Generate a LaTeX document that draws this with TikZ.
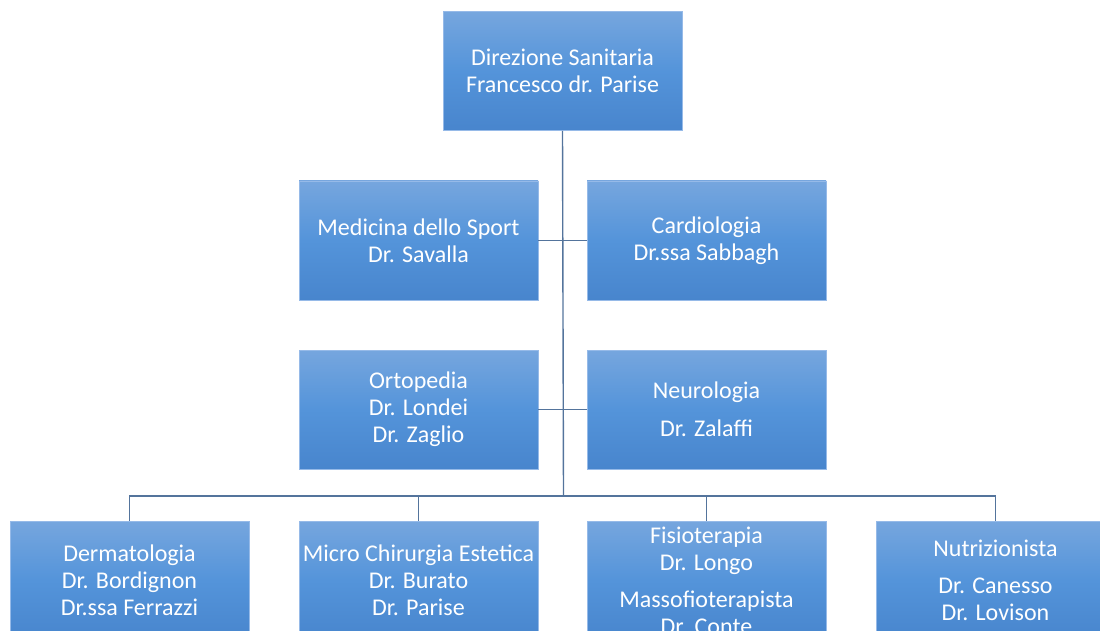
\documentclass[tikz,border=0pt]{standalone}
\usepackage{fontspec}
\setmainfont{Carlito}
\definecolor{boxtop}{RGB}{118,166,222}
\definecolor{boxmid}{RGB}{84,148,218}
\definecolor{boxbot}{RGB}{72,133,205}
\definecolor{boxline}{RGB}{150,186,232}
\definecolor{conn}{RGB}{84,116,156}
\tikzset{
  orgbox/.style={rectangle, minimum width=239pt, minimum height=119pt, inner sep=0pt,
    top color=boxtop, bottom color=boxbot, middle color=boxmid,
    draw=boxline, line width=0.8pt, text=white, align=center,
    font=\fontsize{24}{27}\selectfont},
  link/.style={draw=conn, line width=1.4pt}
}
\begin{document}
\begin{tikzpicture}[x=1pt,y=-1pt]
\useasboundingbox (0,0) rectangle (1100,631);
\clip (0,0) rectangle (1100,631);
\node[orgbox] (top) at (562.5,71) {Direzione Sanitaria\\Francesco dr. Parise};
\node[orgbox] (med) at (418.5,240.5) {Medicina dello Sport\\Dr. Savalla};
\node[orgbox] (card) at (706.5,240.5) {Cardiologia\\Dr.ssa Sabbagh};
\node[orgbox] (orto) at (418.5,409.5) {Ortopedia\\Dr. Londei\\Dr. Zaglio};
\node[orgbox] (neuro) at (706.5,409.5) {Neurologia\\[11pt]Dr. Zalaffi};
\node[orgbox] (derm) at (129.5,580.5) {Dermatologia\\Dr. Bordignon\\Dr.ssa Ferrazzi};
\node[orgbox] (micro) at (418.5,580.5) {Micro Chirurgia Estetica\\Dr. Burato\\Dr. Parise};
\node[orgbox] (fisio) at (706.5,580.5) {Fisioterapia\\Dr. Longo\\[10pt]Massofioterapista\\Dr. Conte};
\node[orgbox] (nutri) at (995.5,580.5) {Nutrizionista\\[10pt]Dr. Canesso\\Dr. Lovison};
\coordinate (bus) at (563.5,496);
\draw[link] (top.south) -- (bus);
\draw[link] (med.east) -- (card.west);
\draw[link] (orto.east) -- (neuro.west);
\draw[link] (derm.north) |- (bus);
\draw[link] (micro.north) |- (bus);
\draw[link] (fisio.north) |- (bus);
\draw[link] (nutri.north) |- (bus);
\end{tikzpicture}
\end{document}
